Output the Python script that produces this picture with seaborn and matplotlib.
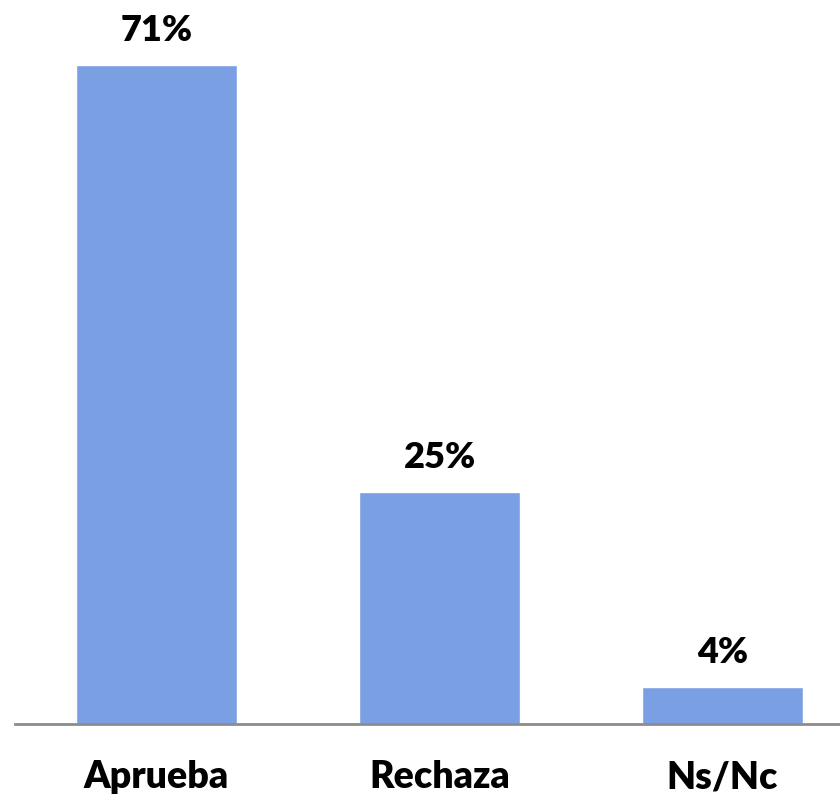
import matplotlib
matplotlib.use("Agg")
import matplotlib.pyplot as plt
import seaborn as sns
import pandas as pd

categories = ["Aprueba", "Rechaza", "Ns/Nc"]
values = [71, 25, 4]
labels = ["71%", "25%", "4%"]

sns.set_theme(style="white")
plt.rcParams['font.family'] = ['Lato', 'DejaVu Sans']

df = pd.DataFrame({"cat": categories, "val": values})

fig = plt.figure(figsize=(8.4, 8.01), dpi=100)
ax = fig.add_axes([15/840, 77/801, 825/840, (724-65)/801])

sns.barplot(data=df, x="cat", y="val", color="#7B9FE3", saturation=1, width=0.57, ax=ax)
ax.set_xlim(-0.5, (840-156.5)/283)
ax.set_ylim(0, 71)

for p, lab in zip(ax.patches, labels):
    ax.annotate(lab, (p.get_x() + p.get_width()/2, p.get_height()),
                xytext=(0, 25), textcoords="offset points",
                ha="center", va="center", fontsize=26, fontweight="heavy",
                color="black", annotation_clip=False)

for s in ["top", "right", "left"]:
    ax.spines[s].set_visible(False)
ax.spines["bottom"].set_color("#8c8c8c")
ax.spines["bottom"].set_linewidth(2)
ax.set_yticks([])
ax.set_xlabel("")
ax.set_ylabel("")
ax.tick_params(axis="x", length=0, pad=26, labelsize=27)
for t in ax.get_xticklabels():
    t.set_fontweight("heavy")
    t.set_color("black")

fig.savefig("out.png", dpi=100)
